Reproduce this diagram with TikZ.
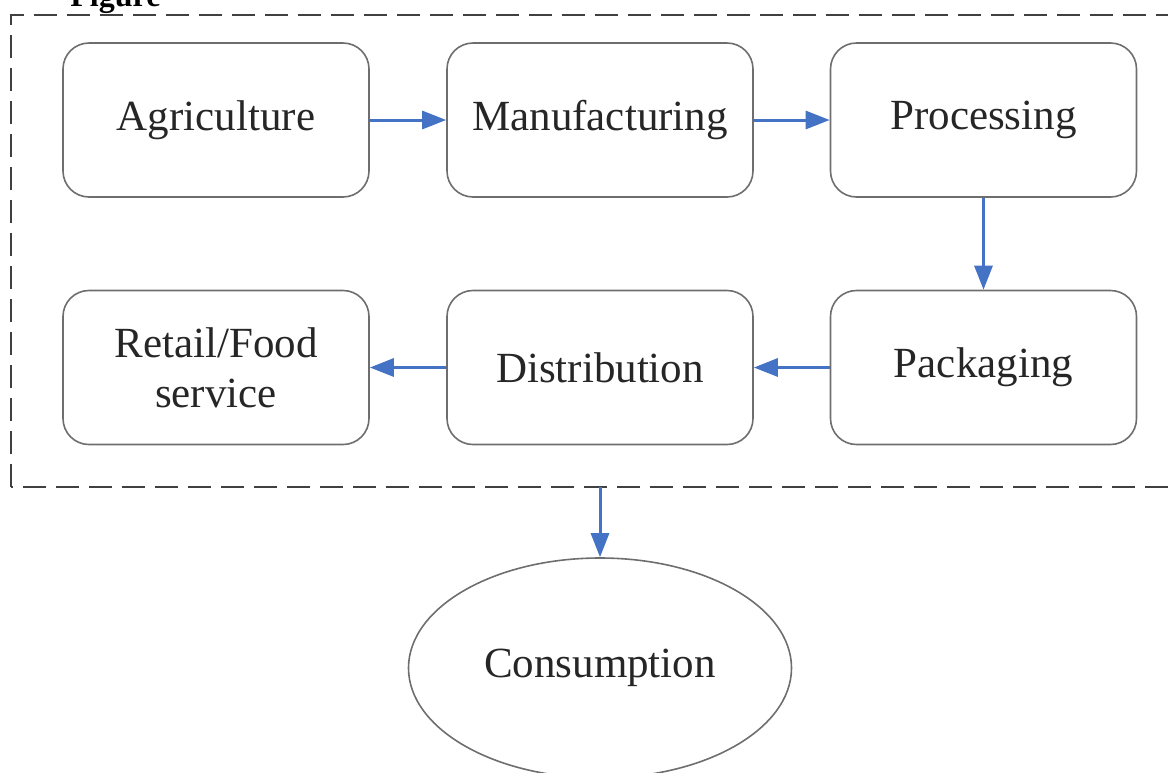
\documentclass[tikz,border=0pt]{standalone}
\usepackage{fontspec}
\setmainfont{Liberation Serif}
\usetikzlibrary{arrows.meta,shapes.geometric,positioning}
\definecolor{flowblue}{HTML}{4472C4}
\definecolor{boxgray}{HTML}{6E6E6E}

\begin{document}
\begin{tikzpicture}[x=0.5pt,y=-0.5pt,
		stage/.style={draw=boxgray, line width=0.8pt, rounded corners=13pt,
			minimum width=153pt, minimum height=77pt, align=center,
			text=black!85, font=\fontsize{21.5}{25}\selectfont},
		flow/.style={draw=flowblue, line width=1.5pt,
			-{Triangle[length=12pt,width=9pt,fill=flowblue]}}]
		\useasboundingbox (0,0) rectangle (1168,772);
		\clip (0,0) rectangle (1168,772);

		% frame round the chain
		\draw[black!75, line width=1.25pt, dash pattern=on 11.5pt off 5pt]
			(11,487) -- (11,15) -- (1190,15) -- (1190,487) -- cycle;
		\node[anchor=base west, inner sep=0pt, font=\bfseries\fontsize{16}{16}\selectfont] (figlabel) at (70,6) {Figure};
		\coordinate (framebot) at (600,487);

		\node[stage] (agri) at (216,120) {Agriculture};
		\node[stage] (manu) at (600,120) {Manufacturing};
		\node[stage] (proc) at (983.5,120) {Processing};
		\node[stage] (pack) at (983.5,367.5) {Packaging};
		\node[stage] (dist) at (600,367.5) {Distribution};
		\node[stage] (retail) at (216,367.5) {Retail/Food\\service};

		\node[ellipse, draw=boxgray, line width=0.8pt, inner sep=0pt,
			minimum width=191.5pt, minimum height=110pt, text=black!85,
			font=\fontsize{21.5}{25}\selectfont] (cons) at (600,668) {Consumption};

		\foreach \s/\t in {agri/manu, manu/proc, pack/dist, dist/retail} {
			\draw[flow] (\s) -- (\t);
		}
		\draw[flow] (proc) -- (pack);
		\draw[flow] (framebot) -- (cons);
	\end{tikzpicture}
\end{document}
